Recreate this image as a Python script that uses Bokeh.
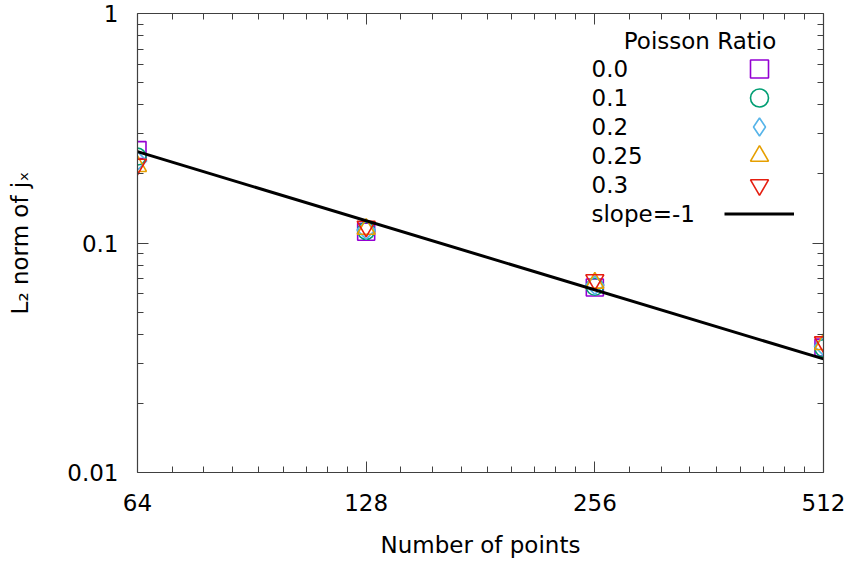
import math
from bokeh.plotting import figure
from bokeh.models import (FixedTicker, CustomJSTickFormatter, LogAxis, Legend,
                          LegendItem, Label)
from bokeh.embed import file_html
from bokeh.resources import INLINE

# ---------------- data ----------------
points = [64, 128, 256, 512]
ratio_labels = ["0.0", "0.1", "0.2", "0.25", "0.3"]
err_00 = [0.254, 0.112, 0.0640, 0.0350]
err_01 = [0.238, 0.113, 0.0645, 0.0348]
err_02 = [0.228, 0.114, 0.0655, 0.0355]
err_025 = [0.216, 0.115, 0.0670, 0.0362]
err_03 = [0.220, 0.118, 0.0690, 0.0370]
slope_x = [64, 512]
slope_y = [0.25, 0.03125]
slope_label = "slope=-1"
legend_title = "Poisson Ratio"
x_ticks = [64, 128, 256, 512]
y_ticks = [0.01, 0.1, 1]

# ---------------- style ----------------
FONT = "DejaVu Sans"
FS = "23px"
AXC = "#404040"
colors = ["#9400D3", "#009E73", "#56B4E9", "#E69F00", "#E51E10"]
markers = ["square", "circle", "square", "triangle", "inverted_triangle"]
angles = [0, 0, math.pi / 4, 0, 0]
sizes = [17, 17, 13, 18, 18]
series = [err_00, err_01, err_02, err_025, err_03]

x_minor = [b * (1 + k / 9) for b in x_ticks[:-1] for k in range(1, 9)]
y_minor = [d * k for d in y_ticks[:-1] for k in range(2, 10)]

p = figure(width=853, height=564, x_axis_type="log", y_axis_type="log",
           x_range=(64, 512), y_range=(0.01, 1),
           output_backend="svg", toolbar_location=None,
           min_border_left=137, min_border_right=30,
           min_border_top=13, min_border_bottom=92)
p.outline_line_color = None
p.grid.visible = False
p.background_fill_color = "white"

xt = FixedTicker(ticks=x_ticks, minor_ticks=x_minor)
yt = FixedTicker(ticks=y_ticks, minor_ticks=y_minor)
fmt = CustomJSTickFormatter(code="return tick.toString()")


def style_axis(ax):
    ax.axis_line_color = AXC
    ax.axis_line_width = 1.2
    ax.major_tick_line_color = AXC
    ax.minor_tick_line_color = AXC
    ax.major_tick_in = 11
    ax.major_tick_out = 0
    ax.minor_tick_in = 6
    ax.minor_tick_out = 0
    ax.major_label_text_font = FONT
    ax.major_label_text_font_size = FS
    ax.major_label_text_color = "black"
    ax.axis_label_text_font = FONT
    ax.axis_label_text_font_size = FS
    ax.axis_label_text_font_style = "normal"
    ax.axis_label_text_color = "black"


xa = p.xaxis[0]
xa.ticker = xt
xa.formatter = fmt
style_axis(xa)
xa.major_label_standoff = 21
xa.axis_label = "Number of points"
xa.axis_label_standoff = 18

ya = p.yaxis[0]
ya.ticker = yt
ya.formatter = fmt
style_axis(ya)
ya.major_label_standoff = 19
ya.axis_label = "L\u2082 norm of j\u2093"
ya.axis_label_standoff = 31

blank = CustomJSTickFormatter(code="return ''")
top = LogAxis(ticker=xt, formatter=blank)
style_axis(top)
top.major_label_text_font_size = "0px"
top.major_label_standoff = 0
p.add_layout(top, "above")
right = LogAxis(ticker=yt, formatter=blank)
style_axis(right)
right.major_label_text_font_size = "0px"
right.major_label_standoff = 0
p.add_layout(right, "right")

renderers = []
for ys, m, a, c, s in zip(series, markers, angles, colors, sizes):
    r = p.scatter(points, ys, marker=m, angle=a, size=s, fill_color=None,
                  line_color=c, line_width=1.6)
    renderers.append(r)
line_r = p.line(slope_x, slope_y, line_color="black", line_width=3)
renderers.append(line_r)

# legend sample for the diamond series (legend samples ignore marker angle)
diamond_key = p.scatter(points, err_02, marker="diamond", size=18, fill_color=None,
                        line_color=colors[2], line_width=1.6, visible=False)
legend_renderers = list(renderers)
legend_renderers[2] = diamond_key

# ---------------- legend (labels left, samples right) ----------------
frame_top = 13
frame_h = 564 - 13 - 92
row0 = 68                # first row centre (canvas px)
pitch = 29
glyph_h = 45
label_x = 591 - 137
sample_w = 70
sample_cx = 759 - 137
title_pos = (699.5 - 137, 40)

texts = ratio_labels + [slope_label]
for i, (r, t) in enumerate(zip(legend_renderers, texts)):
    c = row0 + i * pitch - frame_top
    lg = Legend(items=[LegendItem(label="", renderers=[r])],
                location=(sample_cx - sample_w / 2, frame_h - c - glyph_h / 2),
                glyph_width=sample_w, glyph_height=glyph_h, spacing=0,
                padding=0, margin=0, label_standoff=0, label_height=1,
                label_text_font_size="1px", inactive_fill_alpha=0,
                border_line_color=None, background_fill_alpha=0)
    p.add_layout(lg, "center")
    p.add_layout(Label(x=label_x, y=frame_h - c, x_units="screen",
                       y_units="screen", text=t, text_font=FONT, text_font_size=FS,
                       text_baseline="middle", text_align="left", text_color="black"))
p.add_layout(Label(x=title_pos[0], y=frame_h - (title_pos[1] - frame_top),
                   x_units="screen", y_units="screen",
                   text=legend_title, text_font=FONT, text_font_size=FS,
                   text_baseline="middle", text_align="center", text_color="black"))

open("out.html", "w").write(file_html(p, INLINE))
